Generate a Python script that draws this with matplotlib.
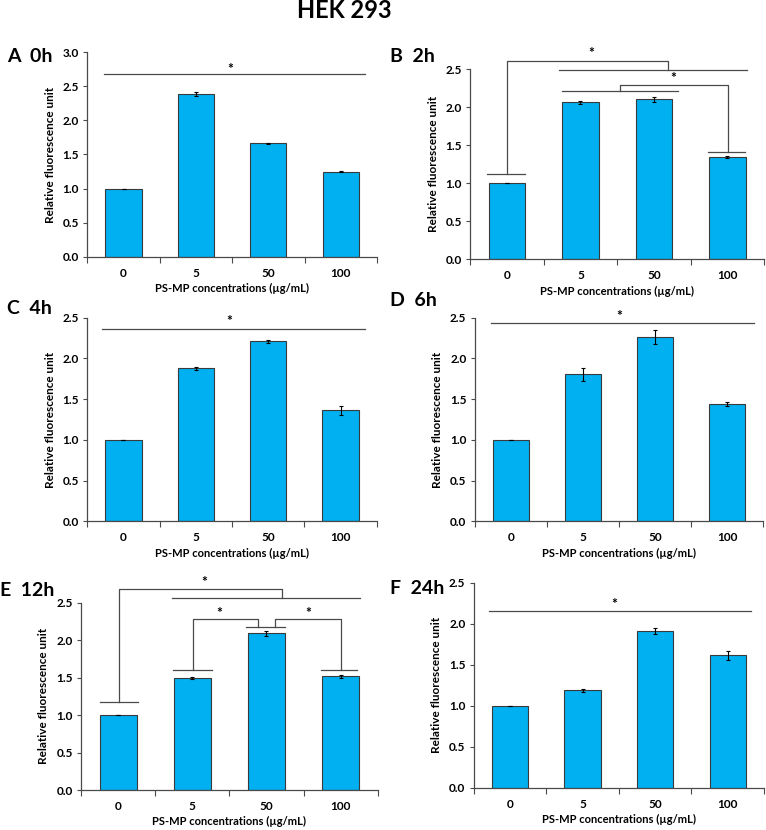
import matplotlib
matplotlib.use("Agg")
import matplotlib.pyplot as plt
from matplotlib.ticker import MultipleLocator, FixedLocator

plt.rcParams['font.family'] = ['Lato', 'DejaVu Sans']
plt.rcParams['font.weight'] = 'bold'

# data
concentrations = ['0', '5', '50', '100']
means_0h = [1.0, 2.39, 1.665, 1.248]
err_0h = [0, 0.027, 0.01, 0.006]
means_2h = [1.0, 2.065, 2.105, 1.345]
err_2h = [0, 0.024, 0.03, 0.012]
means_4h = [1.0, 1.878, 2.208, 1.362]
err_4h = [0, 0.02, 0.015, 0.055]
means_6h = [1.0, 1.804, 2.262, 1.44]
err_6h = [0, 0.08, 0.088, 0.022]
means_12h = [1.0, 1.495, 2.09, 1.515]
err_12h = [0, 0.01, 0.028, 0.015]
means_24h = [1.0, 1.187, 1.91, 1.613]
err_24h = [0, 0.015, 0.033, 0.05]

W, H = 766, 830
BAR = '#00B0F0'
EDGE = '#3a3a3a'
LINE = '#4a4a4a'

fig = plt.figure(figsize=(W / 100, H / 100), dpi=100)


def make_axes(left, right, top, bottom):
    # pixel box -> figure fraction
    return fig.add_axes([left / W, 1 - bottom / H, (right - left) / W, (bottom - top) / H])


def draw_panel(ax, means, errs, ymax):
    x = range(len(concentrations))
    ax.bar(x, means, width=0.5, color=BAR, edgecolor=EDGE, linewidth=0.8, zorder=2)
    ax.errorbar(x, means, yerr=errs, fmt='none', ecolor='black', elinewidth=0.8,
                capsize=1.6, capthick=0.8, zorder=3)
    ax.set_xlim(-0.5, 3.5)
    ax.set_ylim(0, ymax)
    ax.yaxis.set_major_locator(MultipleLocator(0.5))
    ax.yaxis.set_major_formatter(plt.FormatStrFormatter('%.1f'))
    ax.set_xticks(list(x))
    ax.set_xticklabels(concentrations)
    ax.xaxis.set_minor_locator(FixedLocator([-0.5, 0.5, 1.5, 2.5, 3.5]))
    ax.tick_params(axis='x', which='major', length=0, pad=8, labelsize=8.5)
    ax.tick_params(axis='x', which='minor', length=4, width=0.8, color=LINE, direction='out')
    ax.tick_params(axis='y', length=3, width=0.8, color=LINE, pad=3, labelsize=8.5)
    for s in ['top', 'right']:
        ax.spines[s].set_visible(False)
    for s in ['left', 'bottom']:
        ax.spines[s].set_color(LINE)
        ax.spines[s].set_linewidth(0.9)
    ax.set_ylabel('Relative fluorescence unit', fontsize=8.5, fontweight='bold', labelpad=5)
    ax.set_xlabel('PS-MP concentrations (µg/mL)', fontsize=8, fontweight='bold', labelpad=3)


def sig_line(ax, x0, x1, y, star_x, star_dy=0.08):
    ax.plot([x0, x1], [y, y], color=LINE, lw=0.9, clip_on=False)
    ax.text(star_x, y + star_dy, '*', ha='center', va='center', fontsize=10, fontweight='bold')


def path(ax, xs, ys):
    ax.plot(xs, ys, color=LINE, lw=0.9, clip_on=False)


# A 0h
axA = make_axes(87.3, 377, 52.3, 256.7)
draw_panel(axA, means_0h, err_0h, 3.0)
sig_line(axA, -0.27, 3.34, 2.687, 1.47, 0.07)

# B 2h
axB = make_axes(470.3, 764, 69.3, 259.3)
draw_panel(axB, means_2h, err_2h, 2.5)
path(axB, [-0.27, 0.25], [1.123, 1.123])
path(axB, [0.0, 0.0, 2.195, 2.195], [1.123, 2.61, 2.61, 2.496])
path(axB, [0.71, 3.27], [2.496, 2.496])
axB.text(1.15, 2.71, '*', ha='center', va='center', fontsize=10, fontweight='bold')
path(axB, [0.75, 2.33], [2.215, 2.215])
path(axB, [1.545, 1.545, 3.01, 3.01], [2.215, 2.294, 2.294, 1.412])
path(axB, [2.74, 3.24], [1.412, 1.412])
axB.text(2.26, 2.38, '*', ha='center', va='center', fontsize=10, fontweight='bold')

# C 4h
axC = make_axes(87.3, 376.7, 317.7, 521.3)
draw_panel(axC, means_4h, err_4h, 2.5)
sig_line(axC, -0.29, 3.34, 2.365, 1.46, 0.09)

# D 6h
axD = make_axes(474.7, 763, 317.7, 521.3)
draw_panel(axD, means_6h, err_6h, 2.5)
sig_line(axD, -0.27, 3.375, 2.439, 1.50, 0.08)

# E 12h
axE = make_axes(81, 377.7, 602.7, 790)
draw_panel(axE, means_12h, err_12h, 2.5)
path(axE, [-0.248, 0.273], [1.174, 1.174])
path(axE, [0.017, 0.017, 2.206, 2.206], [1.174, 2.682, 2.682, 2.567])
path(axE, [0.73, 3.26], [2.567, 2.567])
axE.text(1.16, 2.78, '*', ha='center', va='center', fontsize=10, fontweight='bold')
path(axE, [0.745, 1.27], [1.597, 1.597])
path(axE, [1.006, 1.006, 1.89, 1.89], [1.597, 2.278, 2.278, 2.18])
path(axE, [1.73, 2.25], [2.18, 2.18])
path(axE, [2.116, 2.116, 3.0, 3.0], [2.18, 2.278, 2.278, 1.597])
path(axE, [2.736, 3.226], [1.597, 1.597])
axE.text(1.36, 2.36, '*', ha='center', va='center', fontsize=10, fontweight='bold')
axE.text(2.565, 2.36, '*', ha='center', va='center', fontsize=10, fontweight='bold')

# F 24h
axF = make_axes(473.7, 764, 582.7, 787.7)
draw_panel(axF, means_24h, err_24h, 2.5)
sig_line(axF, -0.293, 3.32, 2.154, 1.43, 0.09)

# panel letters
labels = [('A  0h', 7, 57), ('B  2h', 390, 57), ('C  4h', 7, 308),
          ('D  6h', 390, 300), ('E  12h', 0, 590), ('F  24h', 390, 588)]
for txt, px, py in labels:
    fig.text(px / W, 1 - py / H, txt, ha='left', va='center', fontsize=14, fontweight='bold')

fig.text(344 / W, 1 - 10 / H, 'HEK 293', ha='center', va='center', fontsize=17, fontweight='bold')

fig.savefig('out.png', dpi=100)
